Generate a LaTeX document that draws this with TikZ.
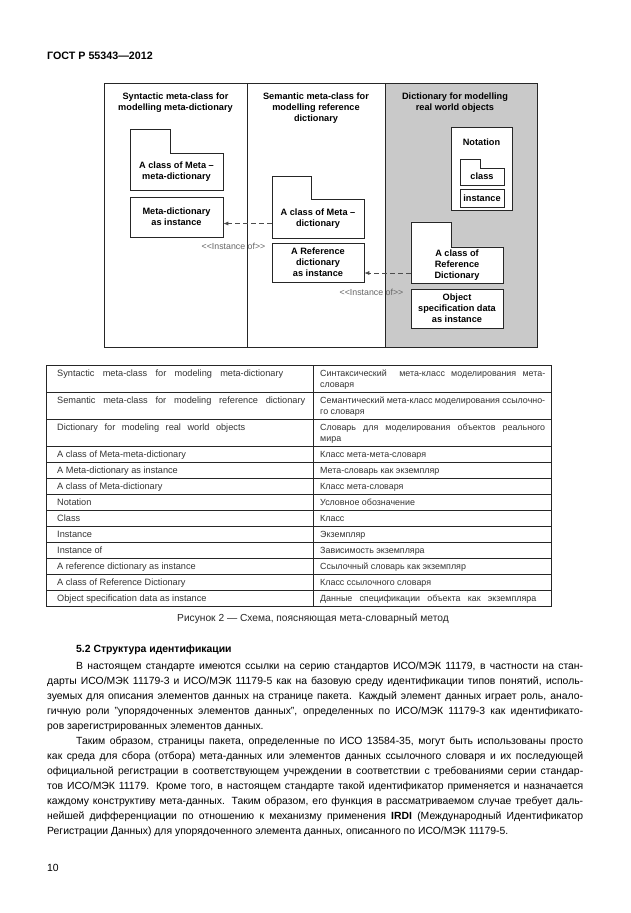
\documentclass[tikz,border=0pt]{standalone}
\usepackage{fontspec}
\setmainfont{Liberation Sans}
\usetikzlibrary{arrows.meta,backgrounds}
\definecolor{colGray}{RGB}{201,201,201}
\newcommand{\myDiag}{\fontsize{9.2}{11}\selectfont\bfseries}
\newcommand{\myInst}{\fontsize{8.8}{10}\selectfont}
\newcommand{\myTab}{\fontsize{9.2}{11}\selectfont}
\newcommand{\myTabRu}{\fontsize{8.9}{11}\selectfont}
\newcommand{\myCap}{\fontsize{10.2}{12}\selectfont}
\newcommand{\myBody}{\fontsize{10.4}{13}\selectfont}
\tikzset{
  frame/.style={draw=black!85, line width=1pt},
  bx/.style={draw=black!85, line width=0.6pt, fill=white, inner sep=0pt, font=\myDiag, align=center},
  fbody/.style={inner sep=0pt, font=\myDiag, align=center},
  folder/.style={draw=black!85, line width=0.6pt, fill=white},
  hdr/.style={font=\myDiag, align=center, inner sep=0pt},
  instarrow/.style={draw=black!70, line width=0.7pt, dash pattern=on 5pt off 3pt, -{Latex[length=5pt,width=4pt]}},
  instlbl/.style={font=\myInst, text=black!60, inner sep=0pt},
  tline/.style={draw=black!85, line width=0.6pt},
  tcell/.style={font=\myTab, anchor=base west, inner sep=0pt, text=black!80},
  rcell/.style={font=\myTabRu, anchor=base west, inner sep=0pt, text=black!80},
  bodyl/.style={font=\myBody, anchor=base west, inner sep=0pt},
}
\begin{document}
\begin{tikzpicture}[x=1pt,y=-1pt]
\useasboundingbox (0,0) rectangle (630,913);
\begin{scope}[on background layer]
  \fill[white] (0,0) rectangle (630,913);
  \fill[colGray] (385,83) rectangle (537,347);
\end{scope}

\node[anchor=base west, inner sep=0pt, font=\fontsize{10.7}{12}\selectfont\bfseries] (gost) at (47,59) {ГОСТ Р 55343—2012};

% ---------- diagram ----------
\draw[frame] (104,83) rectangle (537,347);
\draw[frame] (247,83) -- (247,347);
\draw[frame] (385,83) -- (385,347);

\node[hdr, anchor=north] (h1) at (175.5,92.2) {Syntactic meta-class for\\modelling meta-dictionary};
\node[hdr, anchor=north] (h2) at (316,92.2) {Semantic meta-class for\\modelling reference\\dictionary};
\node[hdr, anchor=north] (h3) at (455,92.2) {Dictionary for modelling\\real world objects};

% left column
\node[fbody, minimum width=93pt, minimum height=37pt] (F1) at (176.5,171.5) {A class of Meta –\\meta-dictionary};
\node[bx, minimum width=93pt, minimum height=40pt] (B1) at (176.5,217) {Meta-dictionary\\as instance};

% middle column
\node[fbody, minimum width=92pt, minimum height=39pt] (F2) at (318,218.5) {A class of Meta –\\dictionary};
\node[bx, minimum width=92pt, minimum height=39pt] (B2) at (318,262.5) {A Reference\\dictionary\\as instance};

% right column
\node[fbody, minimum width=61pt, minimum height=83pt] (N) at (481.5,168.5) {};
\node[hdr] (Nlbl) at (481.5,142) {Notation};
\node[fbody, minimum width=44pt, minimum height=17pt] (C) at (482,176.5) {class};
\node[bx, minimum width=44pt, minimum height=18pt] (I) at (482,198) {instance};
\node[fbody, minimum width=92pt, minimum height=36pt] (F3) at (457,265) {A class of\\Reference\\Dictionary};
\node[bx, minimum width=92pt, minimum height=39pt] (B3) at (457,308.5) {Object\\specification data\\as instance};

% folder outlines (behind their texts)
\begin{scope}[on background layer]
  \filldraw[folder] (F1.south west) -- (F1.north west) -- ++(0,-24) -- ++(40,0) -- ++(0,24) -- (F1.north east) -- (F1.south east) -- cycle;
  \filldraw[folder] (F2.south west) -- (F2.north west) -- ++(0,-23) -- ++(39,0) -- ++(0,23) -- (F2.north east) -- (F2.south east) -- cycle;
  \filldraw[folder] (N.north west) rectangle (N.south east);
  \filldraw[folder] (C.south west) -- (C.north west) -- ++(0,-9) -- ++(20,0) -- ++(0,9) -- (C.north east) -- (C.south east) -- cycle;
  \filldraw[folder] (F3.south west) -- (F3.north west) -- ++(0,-25) -- ++(40,0) -- ++(0,25) -- (F3.north east) -- (F3.south east) -- cycle;
\end{scope}

% instance-of connectors
\draw[instarrow] ([yshift=-5pt]F2.west) -- ([yshift=-5pt]F2.west -| B1.east);
\node[instlbl] (L1) at (233.5,246) {<\kern0pt<Instance of>\kern0pt>};
\draw[instarrow] ([yshift=-8pt]F3.west) -- ([yshift=-8pt]F3.west -| B2.east);
\node[instlbl] (L2) at (371.5,292) {<\kern0pt<Instance of>\kern0pt>};

% ---------- table ----------
\draw[tline] (46,365) rectangle (551,606);
\draw[tline] (313,365) -- (313,606);
\foreach \yy in {392,419,446,462,478,494,510,526,542,558,574,590}
  \draw[tline] (46,\yy) -- (551,\yy);

\node[tcell] (e1) at (57,376) {\makebox[226pt][s]{Syntactic meta-class for modeling meta-dictionary}};
\node[rcell] (r1a) at (320,376) {\makebox[225pt][s]{Синтаксический \ мета-класс моделирования мета-}};
\node[rcell] (r1b) at (320,387) {словаря};
\node[tcell] (e2) at (57,403) {\makebox[248pt][s]{Semantic meta-class for modeling reference dictionary}};
\node[rcell] (r2a) at (320,403) {\makebox[225pt][s]{Семантический мета-класс моделирования ссылочно-}};
\node[rcell] (r2b) at (320,414) {го словаря};
\node[tcell] (e3) at (57,430) {\makebox[188pt][s]{Dictionary for modeling real world objects}};
\node[rcell] (r3a) at (320,430) {\makebox[225pt][s]{Словарь для моделирования объектов реального}};
\node[rcell] (r3b) at (320,441) {мира};

\node[tcell] (e4) at (57,457) {A class of Meta-meta-dictionary};
\node[rcell] (r4) at (320,457) {Класс мета-мета-словаря};
\node[tcell] (e5) at (57,473) {A Meta-dictionary as instance};
\node[rcell] (r5) at (320,473) {Мета-словарь как экземпляр};
\node[tcell] (e6) at (57,489) {A class of Meta-dictionary};
\node[rcell] (r6) at (320,489) {Класс мета-словаря};
\node[tcell] (e7) at (57,505) {Notation};
\node[rcell] (r7) at (320,505) {Условное обозначение};
\node[tcell] (e8) at (57,521) {Class};
\node[rcell] (r8) at (320,521) {Класс};
\node[tcell] (e9) at (57,537) {Instance};
\node[rcell] (r9) at (320,537) {Экземпляр};
\node[tcell] (e10) at (57,553) {Instance of};
\node[rcell] (r10) at (320,553) {Зависимость экземпляра};
\node[tcell] (e11) at (57,569) {A reference dictionary as instance};
\node[rcell] (r11) at (320,569) {Ссылочный словарь как экземпляр};
\node[tcell] (e12) at (57,585) {A class of Reference Dictionary};
\node[rcell] (r12) at (320,585) {Класс ссылочного словаря};
\node[tcell] (e13) at (57,601) {Object specification data as instance};
\node[rcell] (r13) at (320,601) {\makebox[216pt][s]{Данные спецификации объекта как экземпляра}};

\node[anchor=base, inner sep=0pt, font=\myCap, text=black!85] (cap) at (313,621.5) {Рисунок 2 — Схема, поясняющая мета-словарный метод};

% ---------- body text ----------
\node[bodyl, font=\myBody\bfseries] (sec) at (76,652.5) {5.2 Структура идентификации};
\node[bodyl] (p1) at (76,669.5) {\makebox[507pt][s]{В настоящем стандарте имеются ссылки на серию стандартов ИСО/МЭК 11179, в частности на стан-}};
\node[bodyl] (p2) at (47,684.5) {\makebox[536pt][s]{дарты ИСО/МЭК 11179-3 и ИСО/МЭК 11179-5 как на базовую среду идентификации типов понятий, исполь-}};
\node[bodyl] (p3) at (47,699.5) {\makebox[536pt][s]{зуемых для описания элементов данных на странице пакета. Каждый элемент данных играет роль, анало-}};
\node[bodyl] (p4) at (47,714.5) {\makebox[536pt][s]{гичную роли "упорядоченных элементов данных", определенных по ИСО/МЭК 11179-3 как идентификато-}};
\node[bodyl] (p5) at (47,729.5) {ров зарегистрированных элементов данных.};
\node[bodyl] (p6) at (76,744.5) {\makebox[507pt][s]{Таким образом, страницы пакета, определенные по ИСО 13584-35, могут быть использованы просто}};
\node[bodyl] (p7) at (47,759.5) {\makebox[536pt][s]{как среда для сбора (отбора) мета-данных или элементов данных ссылочного словаря и их последующей}};
\node[bodyl] (p8) at (47,774.5) {\makebox[536pt][s]{официальной регистрации в соответствующем учреждении в соответствии с требованиями серии стандар-}};
\node[bodyl] (p9) at (47,789.5) {\makebox[536pt][s]{тов ИСО/МЭК 11179. Кроме того, в настоящем стандарте такой идентификатор применяется и назначается}};
\node[bodyl] (p10) at (47,804.5) {\makebox[536pt][s]{каждому конструктиву мета-данных. Таким образом, его функция в рассматриваемом случае требует даль-}};
\node[bodyl] (p11) at (47,819.5) {\makebox[536pt][s]{нейшей дифференциации по отношению к механизму применения \textbf{IRDI} (Международный Идентификатор}};
\node[bodyl] (p12) at (47,834.5) {Регистрации Данных) для упорядоченного элемента данных, описанного по ИСО/МЭК 11179-5.};

\node[bodyl] (pg) at (47,871) {10};
\end{tikzpicture}
\end{document}
